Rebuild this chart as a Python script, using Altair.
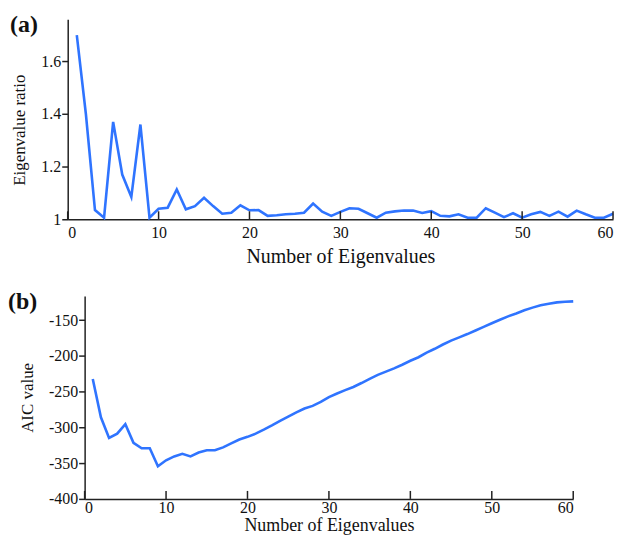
import altair as alt
import pandas as pd

n_vals = list(range(1, 61))

ratio = [1.70, 1.40, 1.035, 1.006, 1.37, 1.17, 1.085, 1.36, 1.006, 1.04,
         1.044, 1.113, 1.038, 1.05, 1.082, 1.05, 1.021, 1.025, 1.053, 1.034,
         1.035, 1.013, 1.015, 1.019, 1.021, 1.025, 1.06, 1.029, 1.013, 1.028,
         1.042, 1.04, 1.023, 1.006, 1.025, 1.03, 1.033, 1.033, 1.024, 1.031,
         1.013, 1.011, 1.019, 1.006, 1.006, 1.042, 1.025, 1.008, 1.023, 1.006,
         1.019, 1.028, 1.013, 1.029, 1.01, 1.033, 1.019, 1.006, 1.006, 1.021]

aic = [-232.4, -285.8, -314.6, -308.7, -295.4, -321.5, -329.2, -329.2, -354.3, -346.0,
       -340.6, -337.0, -340.6, -335.2, -332.0, -332.0, -327.9, -322.4, -316.9, -313.2,
       -308.7, -303.2, -297.3, -290.9, -284.9, -279.0, -273.5, -269.9, -264.4, -257.5,
       -252.5, -247.9, -243.4, -237.9, -232.0, -226.5, -221.9, -217.4, -212.3, -206.8,
       -201.8, -195.4, -190.0, -184.0, -178.5, -174.0, -169.4, -164.4, -159.4, -154.3,
       -149.3, -144.7, -140.6, -136.1, -132.4, -129.2, -126.9, -125.1, -124.2, -123.7]

x_ticks = [0, 10, 20, 30, 40, 50, 60]
ratio_ticks = [1.0, 1.2, 1.4, 1.6]
aic_ticks = [-400, -350, -300, -250, -200, -150]

FONT = "Liberation Serif"
BLUE = "#2f74ff"
AXIS_COLOR = "#222222"


def panel(values, label, ytitle, ydomain, yticks, ylabel_expr, width, height,
          x_start, label_dx, xlab_pad, xtitle_pad, xtitle_size, title_y=None):
    df = pd.DataFrame({"n": n_vals, "v": values})
    xscale = alt.Scale(domain=[0, 60], range=[x_start, width], nice=False, zero=False)
    yaxis_kwargs = dict(values=yticks, labelExpr=ylabel_expr, title=ytitle,
                        titlePadding=12, titleFontSize=17, offset=-x_start)
    if title_y is not None:
        yaxis_kwargs["titleY"] = title_y
    line = alt.Chart(df).mark_line(color=BLUE, strokeWidth=2.6).encode(
        x=alt.X("n:Q", scale=xscale,
                axis=alt.Axis(values=x_ticks, title="Number of Eigenvalues",
                              tickSize=0, labelPadding=xlab_pad,
                              titlePadding=xtitle_pad, titleFontSize=xtitle_size)),
        y=alt.Y("v:Q", scale=alt.Scale(domain=ydomain, nice=False, zero=False),
                axis=alt.Axis(**yaxis_kwargs)),
    )
    tdf = pd.DataFrame({"t": x_ticks})
    ticks = alt.Chart(tdf).mark_rule(color=AXIS_COLOR, strokeWidth=1.5).encode(
        x=alt.X("t:Q", scale=xscale),
        y=alt.value(height),
        y2=alt.value(height - 8),
    )
    ldf = pd.DataFrame({"t": [label]})
    lab = alt.Chart(ldf).mark_text(align="left", baseline="middle", font=FONT,
                                   fontSize=24, fontWeight="bold",
                                   color="#111111").encode(
        text="t:N", x=alt.value(label_dx), y=alt.value(6)
    )
    return alt.layer(line, ticks, lab).properties(width=width, height=height)


a = panel(ratio, "(a)", "Eigenvalue ratio", [1.0, 1.76], ratio_ticks,
          "datum.value == 1 ? '1' : format(datum.value, '.1f')",
          548, 201, 0, -58, 5, 6, 20, title_y=111)
b = panel(aic, "(b)", "AIC value", [-400, -116], aic_ticks,
          "datum.value < 0 ? '-' + format(abs(datum.value), 'd') : format(datum.value, 'd')",
          508, 204, 17, -60, 1, 1, 18)

chart = alt.vconcat(a, b, spacing=24).configure_view(
    stroke=None
).configure_axis(
    grid=False,
    domainColor=AXIS_COLOR,
    domainWidth=1.5,
    tickColor=AXIS_COLOR,
    tickWidth=1.5,
    tickSize=6,
    labelFont=FONT,
    labelFontSize=16,
    labelColor="#111111",
    labelPadding=1,
    titleFont=FONT,
    titleFontSize=20,
    titleFontWeight="normal",
    titleColor="#111111",
).properties(padding={"left": 0, "top": 4, "right": 0, "bottom": 4})

chart.save("out.html", embed_options={"renderer": "svg", "actions": False})
